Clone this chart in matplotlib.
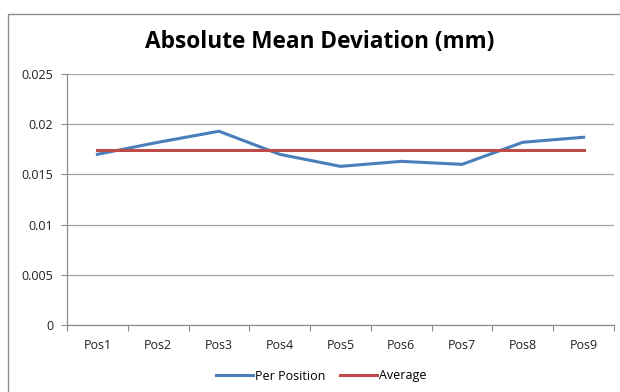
import matplotlib.pyplot as plt
import numpy as np
from matplotlib.patches import Rectangle

plt.rcParams['font.family'] = ['Open Sans', 'DejaVu Sans']

positions = ['Pos1', 'Pos2', 'Pos3', 'Pos4', 'Pos5', 'Pos6', 'Pos7', 'Pos8', 'Pos9']
per_position = [0.0170, 0.0182, 0.0193, 0.0170, 0.0158, 0.0163, 0.0160, 0.0182, 0.0187]
average = [0.01741] * 9

fig = plt.figure(figsize=(6.2, 3.92), dpi=100)
# chart frame
fig.patches.append(Rectangle((8 / 620, -0.1), 1.2, 1.1 - 14 / 392, transform=fig.transFigure,
                             fill=False, edgecolor='#8c8c8c', linewidth=1.0))

ax = fig.add_axes([67 / 620, 1 - 325 / 392, 547 / 620, 251 / 392])
x = np.arange(len(positions))
ax.plot(x, per_position, color='#4a7ebb', linewidth=2.2, label='Per Position')
ax.plot(x, average, color='#be4b48', linewidth=2.2, label='Average')

ax.set_xlim(-0.5, len(positions) - 0.5)
ax.set_ylim(0, 0.025)
ax.set_yticks([0, 0.005, 0.01, 0.015, 0.02, 0.025])
ax.set_yticklabels(['0', '0.005', '0.01', '0.015', '0.02', '0.025'])
ax.set_xticks(x)
ax.set_xticklabels(positions)
ax.set_xticks(np.arange(-0.5, len(positions)), minor=True)
ax.tick_params(axis='x', which='major', length=0, pad=10, labelsize=9, colors='#222222')
ax.tick_params(axis='x', which='minor', length=4, color='#8c8c8c', width=0.8)
ax.tick_params(axis='y', length=4, color='#8c8c8c', width=0.8, labelsize=9, pad=6,
               labelcolor='#222222')

ax.yaxis.grid(True, color='#a6a6a6', linewidth=0.9)
ax.set_axisbelow(True)
for side in ['top', 'right']:
    ax.spines[side].set_visible(False)
for side in ['left', 'bottom']:
    ax.spines[side].set_color('#8c8c8c')
    ax.spines[side].set_linewidth(0.9)

fig.text(320 / 620, 1 - 42 / 392, 'Absolute Mean Deviation (mm)', ha='center', va='center',
         fontsize=16.3, fontweight='bold', color='black')

fig.legend(loc='center', bbox_to_anchor=(321 / 620, 1 - 376 / 392), ncol=2, frameon=False,
           fontsize=9, handlelength=3.0, columnspacing=1.2, handletextpad=0.1)

fig.savefig('out.png', dpi=100)
